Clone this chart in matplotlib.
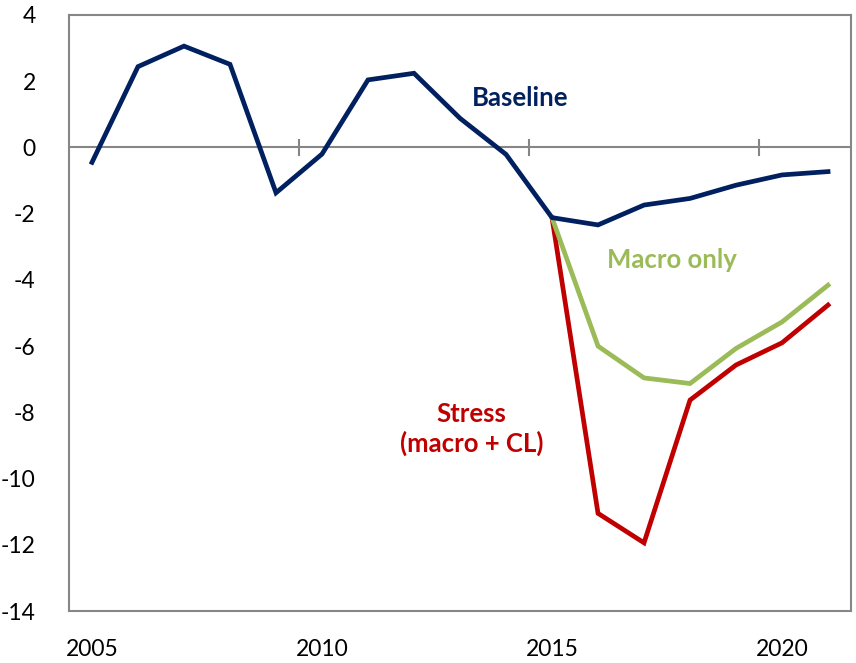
import matplotlib
matplotlib.use("Agg")
import matplotlib.pyplot as plt
import numpy as np

plt.rcParams['font.family'] = ['Lato', 'DejaVu Sans']

years = list(range(2005, 2022))
baseline = [-0.45, 2.44, 3.06, 2.51, -1.37, -0.2, 2.04, 2.24, 0.88, -0.21,
            -2.12, -2.34, -1.74, -1.54, -1.14, -0.83, -0.73]
macro_years = list(range(2015, 2022))
macro_only = [-2.12, -6.0, -6.96, -7.13, -6.07, -5.27, -4.16]
stress = [-2.12, -11.05, -11.94, -7.63, -6.57, -5.9, -4.76]

xtick_labels = ['2005', '2010', '2015', '2020']
ytick_vals = [4, 2, 0, -2, -4, -6, -8, -10, -12, -14]

navy = '#002060'
green = '#9BBB59'
red = '#C00000'
gray = '#868686'

fig = plt.figure(figsize=(8.56, 6.63), dpi=100)
ax = fig.add_axes([0.0806, 0.0784, 0.9136, 0.899])

xi = np.arange(len(years))
mi = np.array([years.index(y) for y in macro_years])

ax.axhline(0, color=gray, lw=1.5, zorder=1)
for b in [4.5, 9.5, 14.5]:
    ax.plot([b, b], [-0.22, 0.22], color=gray, lw=1.5, zorder=1)

ax.plot(xi, baseline, color=navy, lw=3.4, solid_joinstyle='miter', zorder=4)
ax.plot(mi, macro_only, color=green, lw=3.4, solid_joinstyle='miter', zorder=3)
ax.plot(mi, stress, color=red, lw=3.4, solid_joinstyle='miter', zorder=2)

ax.set_xlim(-0.5, 16.5)
ax.set_ylim(-14, 4)
ax.set_yticks(ytick_vals)
ax.set_yticklabels([str(v) for v in ytick_vals])
ax.set_xticks([years.index(int(t)) for t in xtick_labels])
ax.set_xticklabels(xtick_labels)
ax.tick_params(axis='y', length=0, pad=24, labelsize=16.5)
ax.tick_params(axis='x', length=0, pad=20, labelsize=16.5)

for s in ax.spines.values():
    s.set_color(gray)
    s.set_linewidth(1.5)

ax.text(years.index(2012) + 2.3, 1.5, 'Baseline', color=navy, fontsize=18.5,
        fontweight='bold', ha='center', va='center')
ax.text(years.index(2018) - 0.4, -3.4, 'Macro only', color=green, fontsize=18.5,
        fontweight='bold', ha='center', va='center')
ax.text(years.index(2013) + 0.25, -8.5, 'Stress\n(macro + CL)', color=red, fontsize=18.5,
        fontweight='bold', ha='center', va='center', linespacing=1.25)

fig.savefig('out.png', dpi=100)
